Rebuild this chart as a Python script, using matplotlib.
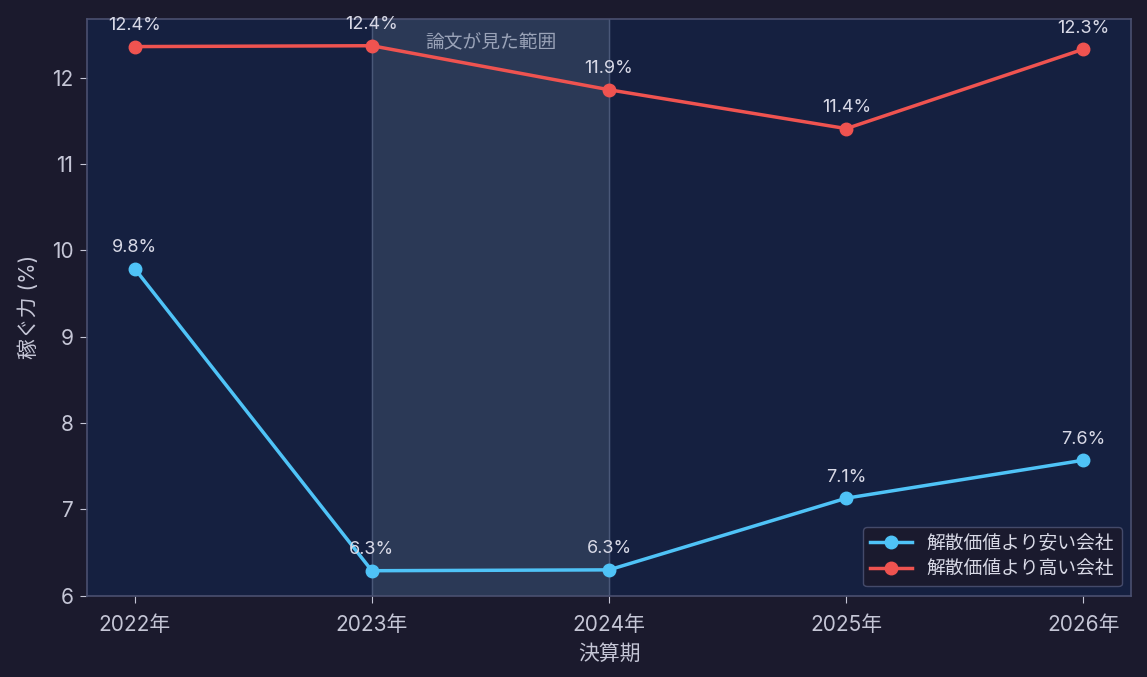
import matplotlib.pyplot as plt
import numpy as np

plt.rcParams['font.family'] = ['Inter', 'Noto Sans CJK JP', 'DejaVu Sans']

years = ["2022年", "2023年", "2024年", "2025年", "2026年"]
cheap = [9.79, 6.29, 6.30, 7.13, 7.57]      # 解散価値より安い会社
pricey = [12.36, 12.37, 11.86, 11.41, 12.33]  # 解散価値より高い会社
cheap_label = "解散価値より安い会社"
pricey_label = "解散価値より高い会社"
span_text = "論文が見た範囲"

fig_bg = "#1b1a2d"
ax_bg = "#152040"
txt = "#c5c6d6"
blue = "#4fc3f7"
red = "#ef5350"

fig, ax = plt.subplots(figsize=(11.47, 6.77), dpi=100)
fig.patch.set_facecolor(fig_bg)
ax.set_facecolor(ax_bg)

x = np.arange(len(years))

# shaded span for the period the paper covered
ax.axvspan(1, 2, color="#3a4a66", alpha=0.6, zorder=0.5)
ax.axvline(1, color="#4a5878", linewidth=1, zorder=0.6)
ax.axvline(2, color="#4a5878", linewidth=1, zorder=0.6)
ax.text(1.5, 0.958, span_text, transform=ax.get_xaxis_transform(),
        ha='center', va='center', color="#9aa3b8", fontsize=13.5)

ax.plot(x, cheap, color=blue, linewidth=2.5, marker='o', markersize=9, label=cheap_label, zorder=3)
ax.plot(x, pricey, color=red, linewidth=2.5, marker='o', markersize=9, label=pricey_label, zorder=3)

for xi, v in zip(x, cheap):
    ax.annotate(f"{v:.1f}%", (xi, v), xytext=(0, 9), textcoords='offset points',
                ha='center', va='bottom', color="#d8d9e6", fontsize=13, annotation_clip=False)
for xi, v in zip(x, pricey):
    ax.annotate(f"{v:.1f}%", (xi, v), xytext=(0, 9), textcoords='offset points',
                ha='center', va='bottom', color="#d8d9e6", fontsize=13, annotation_clip=False)

ax.set_xlim(-0.2, 4.2)
ax.set_ylim(6, 12.68)
ax.set_xticks(x)
ax.set_xticklabels(years)
ax.set_yticks([6, 7, 8, 9, 10, 11, 12])
ax.tick_params(colors=txt, labelsize=15, length=5, pad=5)
ax.tick_params(axis='x', pad=9)
for s in ax.spines.values():
    s.set_color("#4a5070")
    s.set_linewidth(1.2)

ax.set_xlabel("決算期", color=txt, fontsize=15, labelpad=6)
ax.set_ylabel("稼ぐ力 (%)", color=txt, fontsize=15, labelpad=9)

leg = ax.legend(loc='lower right', fontsize=13.5, facecolor="#1b1a2d", edgecolor="#4a5070",
                framealpha=0.9, borderaxespad=0.5, handlelength=2.2)
for t in leg.get_texts():
    t.set_color("#d8d9e6")

plt.subplots_adjust(left=0.076, right=0.986, top=0.972, bottom=0.12)
plt.savefig("out.png", dpi=100, facecolor=fig_bg)
